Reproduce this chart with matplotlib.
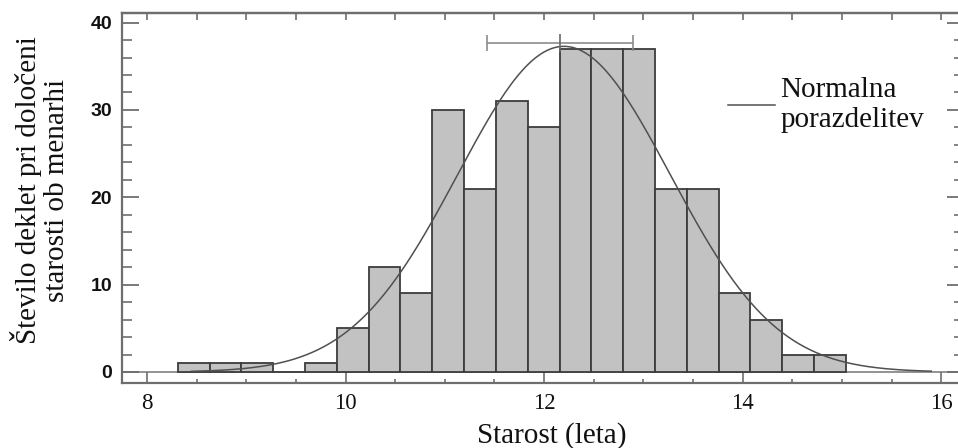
import numpy as np
import matplotlib
matplotlib.use('Agg')
import matplotlib.pyplot as plt
from matplotlib.ticker import MultipleLocator

# ---- data ----
counts = [1, 1, 1, 0, 1, 5, 12, 9, 30, 21, 31, 28, 37, 37, 37, 21, 21, 9, 6, 2, 2]
bin_start = 8.31
bin_width = 0.3205
fit_mean = 12.2
fit_sd = 1.07
curve_range = [8.45, 15.9]
errbar_center = 12.16
errbar_halfwidth = 0.74
errbar_level = 37.65
errbar_tick = 1.0
x_ticks = [8, 10, 12, 14, 16]
y_ticks = [0, 10, 20, 30, 40]
x_label = 'Starost (leta)'
y_label = 'Število deklet pri določeni\nstarosti ob menarhi'
legend_label = 'Normalna\nporazdelitev'

W, H = 958, 448
fig = plt.figure(figsize=(W / 100, H / 100), dpi=100)
L, R, B, T = 122, 964, 383, 13
ax = fig.add_axes([L / W, 1 - B / H, (R - L) / W, (B - T) / H])

spine_col = '#6e6e6e'
edges = bin_start + bin_width * np.arange(len(counts) + 1)
ax.bar(edges[:-1], counts, width=bin_width, align='edge', color='#c2c2c2',
       edgecolor='#3c3c3c', linewidth=1.3, zorder=2)
ax.axhline(0, color='#808080', lw=1.2, zorder=1)

xs = np.linspace(curve_range[0], curve_range[1], 400)
amp = sum(counts) * bin_width / (fit_sd * np.sqrt(2 * np.pi))
ys = amp * np.exp(-0.5 * ((xs - fit_mean) / fit_sd) ** 2)
ax.plot(xs, ys, color='#505050', lw=1.1, zorder=3, label=legend_label)

ax.errorbar(errbar_center, errbar_level, xerr=errbar_halfwidth, fmt='none',
            ecolor='#8c8c8c', elinewidth=1.2, capsize=6, capthick=1.2, zorder=3)
ax.vlines(errbar_center, errbar_level - errbar_tick, errbar_level + errbar_tick * 1.1,
          color='#6a6a6a', lw=1.2, zorder=3)

ax.set_xlim(7.748, 16.23)
ax.set_ylim(-1.26, 41.1)

ax.set_xticks(x_ticks)
ax.set_xticklabels([str(v) for v in x_ticks], fontfamily='Liberation Serif', fontsize=16.5)
ax.xaxis.set_minor_locator(MultipleLocator(0.5))
ax.set_yticks(y_ticks)
ax.set_yticklabels([str(v) for v in y_ticks], fontfamily='Liberation Sans',
                   fontweight='bold', fontsize=14)
ax.yaxis.set_minor_locator(MultipleLocator(2))

ax.tick_params(axis='x', which='major', direction='in', length=8, width=1.2,
               top=False, bottom=True, pad=7, color=spine_col, labelcolor='#111111')
ax.tick_params(axis='x', which='minor', direction='in', length=3, width=1.2,
               top=False, bottom=True, color=spine_col)
ax.tick_params(axis='y', which='major', direction='in', length=12, width=1.3,
               left=True, right=True, pad=7, color=spine_col, labelcolor='#111111')
ax.tick_params(axis='y', which='minor', direction='in', length=7, width=1.2,
               left=True, right=True, color=spine_col)

sec = ax.secondary_xaxis('top')
sec.set_xticks(np.arange(8, 16.01, 0.5))
sec.tick_params(direction='in', length=5, width=1.2, labeltop=False, color=spine_col)
sec.spines['top'].set_color(spine_col)
sec.spines['top'].set_linewidth(1.6)

for s in ax.spines.values():
    s.set_color(spine_col)
    s.set_linewidth(1.6)

ax.set_ylabel(y_label, fontfamily='Liberation Serif', fontsize=21, linespacing=1.05,
              color='#111111')
ax.yaxis.label.set_va('center')
ax.yaxis.set_label_coords((40 - L) / (R - L), (B - 190) / (B - T))

ax.set_xlabel(x_label, fontfamily='Liberation Serif', fontsize=21, color='#111111')
ax.xaxis.label.set_va('baseline')
ax.xaxis.set_label_coords((552 - L) / (R - L), (B - 443) / (B - T))

ax.legend(loc='center left', bbox_to_anchor=(728 / W, 1 - 105 / H),
          bbox_transform=fig.transFigure, frameon=False,
          prop={'family': 'Liberation Serif', 'size': 21},
          handlelength=1.6, handletextpad=0.2, borderpad=0, borderaxespad=0,
          labelcolor='#111111')

fig.savefig('out.png', dpi=100)
